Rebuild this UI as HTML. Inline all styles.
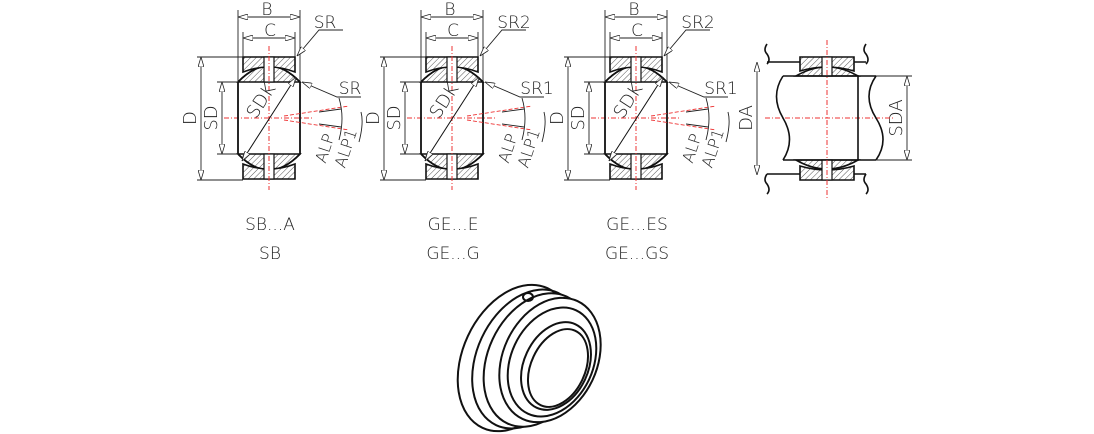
<!DOCTYPE html>
<html><head><meta charset="utf-8"><style>
html,body{margin:0;padding:0;background:#fff;}
svg{display:block;}
text{font-family:"DejaVu Sans","Liberation Sans",sans-serif;font-weight:200;fill:#222;}
</style></head><body>
<svg width="1094" height="434" viewBox="0 0 1094 434" xmlns="http://www.w3.org/2000/svg">
<defs>
<pattern id="h" width="4" height="4" patternUnits="userSpaceOnUse" patternTransform="rotate(45)">
<rect width="4" height="4" fill="#fff"/><line x1="0" y1="0" x2="0" y2="4" stroke="#555" stroke-width="1"/>
</pattern>
<marker id="a" viewBox="0 0 10 6" refX="10" refY="3" markerWidth="10" markerHeight="6" orient="auto-start-reverse" markerUnits="userSpaceOnUse">
<path d="M0,0 L10,3 L0,6 Z" fill="#fff" stroke="#222" stroke-width="0.8"/>
</marker>
<g id="brg">
<line x1="-45" y1="0" x2="45" y2="0" stroke="#e33" stroke-width="1" stroke-dasharray="5,2,1,2"/>
<!-- inner ring -->
<path d="M-31,-36 Q0,-68 31,-36 Z" fill="url(#h)" stroke="#111" stroke-width="1.6"/>
<path d="M-31,36 Q0,68 31,36 Z" fill="url(#h)" stroke="#111" stroke-width="1.6"/>
<path d="M-31,-36 Q0,-68 31,-36 V36 Q0,68 -31,36 Z" fill="none" stroke="#111" stroke-width="1.8"/>
<!-- outer ring -->
<path d="M-26,-61 H26 V-46 Q0,-56 -26,-46 Z" fill="url(#h)" stroke="#111" stroke-width="1.6"/>
<path d="M-26,61 H26 V46 Q0,56 -26,46 Z" fill="url(#h)" stroke="#111" stroke-width="1.6"/>
<!-- lube hole -->
<rect x="-5" y="-61" width="10" height="25" fill="#fff" stroke="#111" stroke-width="1.2"/>
<rect x="-5" y="36" width="10" height="25" fill="#fff" stroke="#111" stroke-width="1.2"/>
<line x1="0" y1="-72" x2="0" y2="72" stroke="#e33" stroke-width="1" stroke-dasharray="5,2,1,2"/>
<!-- SDK -->
<line x1="-27" y1="43" x2="27" y2="-41" stroke="#111" stroke-width="1" marker-start="url(#a)" marker-end="url(#a)"/>
<!-- extension lines -->
<line x1="-31" y1="-36" x2="-31" y2="-108" stroke="#222" stroke-width="0.9"/>
<line x1="31" y1="-36" x2="31" y2="-108" stroke="#222" stroke-width="0.9"/>
<line x1="-26" y1="-61" x2="-26" y2="-86" stroke="#222" stroke-width="0.9"/>
<line x1="26" y1="-61" x2="26" y2="-86" stroke="#222" stroke-width="0.9"/>
<line x1="-31" y1="-101" x2="31" y2="-101" stroke="#222" stroke-width="0.9" marker-start="url(#a)" marker-end="url(#a)"/>
<line x1="-26" y1="-80" x2="26" y2="-80" stroke="#222" stroke-width="0.9" marker-start="url(#a)" marker-end="url(#a)"/>
<line x1="-72" y1="-61" x2="-26" y2="-61" stroke="#222" stroke-width="0.9"/>
<line x1="-72" y1="62" x2="-26" y2="62" stroke="#222" stroke-width="0.9"/>
<line x1="-68" y1="-61" x2="-68" y2="62" stroke="#222" stroke-width="0.9" marker-start="url(#a)" marker-end="url(#a)"/>
<line x1="-52" y1="-36" x2="-31" y2="-36" stroke="#222" stroke-width="0.9"/>
<line x1="-52" y1="36" x2="-31" y2="36" stroke="#222" stroke-width="0.9"/>
<line x1="-47" y1="-36" x2="-47" y2="36" stroke="#222" stroke-width="0.9" marker-start="url(#a)" marker-end="url(#a)"/>
<!-- SR leader -->
<polyline points="28,-62 50,-88 74,-88" fill="none" stroke="#222" stroke-width="0.9" marker-start="url(#a)"/>
<polyline points="33,-36 68,-21 92,-21" fill="none" stroke="#222" stroke-width="0.9" marker-start="url(#a)"/>
<!-- angle lines -->
<line x1="15" y1="-2" x2="80" y2="-12" stroke="#e33" stroke-width="0.9" stroke-dasharray="4,2"/>
<line x1="15" y1="2" x2="80" y2="12" stroke="#e33" stroke-width="0.9" stroke-dasharray="4,2"/>
<line x1="50" y1="-6" x2="72" y2="-9" stroke="#222" stroke-width="0.9"/>
<line x1="50" y1="6" x2="72" y2="9" stroke="#222" stroke-width="0.9"/>
<path d="M70,-20 Q76,0 70,22" fill="none" stroke="#222" stroke-width="0.9"/>
<path d="M92,-6 Q95,5 90,24" fill="none" stroke="#222" stroke-width="0.9"/>
</g>
</defs>

<use href="#brg" x="269" y="118"/>
<use href="#brg" x="452" y="118"/>
<use href="#brg" x="636" y="118"/>

<g font-size="17">
<text x="267" y="15" text-anchor="middle">B</text>
<text x="270" y="36" text-anchor="middle">C</text>
<text x="325" y="28" text-anchor="middle">SR</text>
<text x="350" y="94" text-anchor="middle">SR</text>
<text x="450" y="15" text-anchor="middle">B</text>
<text x="453" y="36" text-anchor="middle">C</text>
<text x="514" y="28" text-anchor="middle">SR2</text>
<text x="537" y="94" text-anchor="middle">SR1</text>
<text x="634" y="15" text-anchor="middle">B</text>
<text x="637" y="36" text-anchor="middle">C</text>
<text x="698" y="28" text-anchor="middle">SR2</text>
<text x="721" y="94" text-anchor="middle">SR1</text>
</g>
<g font-size="18">
<text transform="translate(196,118) rotate(-90)" text-anchor="middle">D</text>
<text transform="translate(217,118) rotate(-90)" text-anchor="middle">SD</text>
<text transform="translate(266,104) rotate(-57)" text-anchor="middle">SDK</text>
<text transform="translate(379,118) rotate(-90)" text-anchor="middle">D</text>
<text transform="translate(400,118) rotate(-90)" text-anchor="middle">SD</text>
<text transform="translate(449,104) rotate(-57)" text-anchor="middle">SDK</text>
<text transform="translate(563,118) rotate(-90)" text-anchor="middle">D</text>
<text transform="translate(584,118) rotate(-90)" text-anchor="middle">SD</text>
<text transform="translate(633,104) rotate(-57)" text-anchor="middle">SDK</text>
<text transform="translate(752,118) rotate(-90)" text-anchor="middle">DA</text>
<text transform="translate(902,118) rotate(-90)" text-anchor="middle">SDA</text>
</g>
<g font-size="16">
<text transform="translate(330,150) rotate(-72)" text-anchor="middle">ALP</text>
<text transform="translate(351,150) rotate(-72)" text-anchor="middle">ALP1</text>
<text transform="translate(513,150) rotate(-72)" text-anchor="middle">ALP</text>
<text transform="translate(534,150) rotate(-72)" text-anchor="middle">ALP1</text>
<text transform="translate(697,150) rotate(-72)" text-anchor="middle">ALP</text>
<text transform="translate(718,150) rotate(-72)" text-anchor="middle">ALP1</text>
</g>

<g font-size="17" text-anchor="middle">
<text x="270" y="230">SB...A</text>
<text x="270" y="259">SB</text>
<text x="453" y="230">GE...E</text>
<text x="453" y="259">GE...G</text>
<text x="637" y="230">GE...ES</text>
<text x="637" y="259">GE...GS</text>
</g>

<!-- mounted drawing -->
<g stroke="#111" fill="none" stroke-width="1.6">
<line x1="765" y1="118" x2="895" y2="118" stroke="#e33" stroke-width="1" stroke-dasharray="5,2,1,2"/>
<path d="M767,44 q-4,6 0,10 q4,6 0,10 M767,62 H800 M853,62 H866 M866,44 q-4,6 0,10 q4,6 0,10" />
<path d="M767,174 q-4,6 0,10 q4,6 0,10 M767,174 H800 M853,174 H866 M866,174 q-4,6 0,10 q4,6 0,10" />
<path d="M796,76 Q827,58 858,76 Z" fill="url(#h)"/>
<path d="M796,160 Q827,178 858,160 Z" fill="url(#h)"/>
<path d="M800,57 H854 V71 Q827,63 800,71 Z" fill="url(#h)"/>
<path d="M800,180 H854 V166 Q827,174 800,166 Z" fill="url(#h)"/>
<rect x="822" y="57" width="10" height="19" fill="#fff" stroke-width="1.2"/>
<rect x="822" y="160" width="10" height="20" fill="#fff" stroke-width="1.2"/>
<path d="M783,76 H858 V160 H783" />
<path d="M783,76 Q770,96 783,118 Q796,140 783,160" />
<path d="M876,76 Q862,96 876,118 Q890,140 876,160" />
<path d="M858,76 H876 M858,160 H876"/>
<line x1="827" y1="40" x2="827" y2="198" stroke="#e33" stroke-width="1" stroke-dasharray="5,2,1,2"/>
</g>
<g stroke="#222" stroke-width="0.9" fill="none">
<line x1="757" y1="62" x2="757" y2="175" marker-start="url(#a)" marker-end="url(#a)"/>
<line x1="876" y1="76" x2="912" y2="76"/>
<line x1="876" y1="160" x2="912" y2="160"/>
<line x1="907" y1="76" x2="907" y2="160" marker-start="url(#a)" marker-end="url(#a)"/>
</g>

<!-- 3D bearing -->
<g stroke="#111" fill="none" stroke-width="2">
<ellipse cx="515" cy="358" rx="52" ry="77" transform="rotate(25 515 358)" fill="#fff"/>
<ellipse cx="527" cy="359" rx="50" ry="73" transform="rotate(25 527 359)"/>
<ellipse cx="537" cy="360" rx="49" ry="70" transform="rotate(25 537 360)" fill="#fff"/>
<ellipse cx="550" cy="360" rx="47" ry="65" transform="rotate(25 550 360)" fill="#fff"/>
<ellipse cx="552" cy="362" rx="41" ry="57" transform="rotate(25 552 362)"/>
<ellipse cx="556" cy="366" rx="32" ry="46" transform="rotate(25 556 366)"/>
<ellipse cx="558" cy="368" rx="27" ry="41" transform="rotate(25 558 368)"/>
<ellipse cx="528" cy="297" rx="5" ry="4"/>
</g>
</svg>
</body></html>
